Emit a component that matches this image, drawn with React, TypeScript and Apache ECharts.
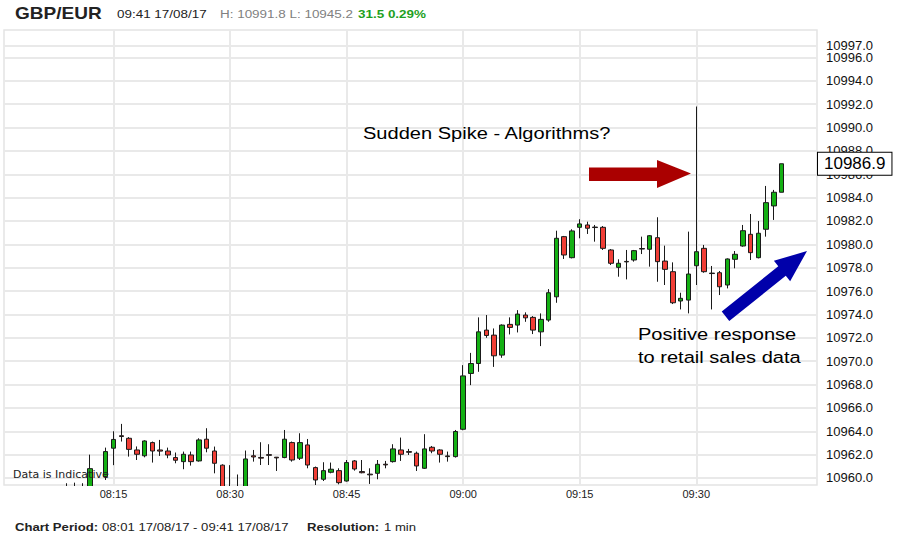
import React, { useEffect, useRef } from "react";
import * as echarts from "echarts";

const symbol = "GBP/EUR";
const stamp = "09:41 17/08/17";
const changeText = "31.5 0.29%";
const periodText = "08:01 17/08/17 - 09:41 17/08/17";
const resolutionText = "1 min";

const times = [
  "08:01","08:02","08:03","08:04","08:05","08:06","08:07","08:08","08:09","08:10",
  "08:11","08:12","08:13","08:14","08:15","08:16","08:17","08:18","08:19","08:20",
  "08:21","08:22","08:23","08:24","08:25","08:26","08:27","08:28","08:29","08:30",
  "08:31","08:32","08:33","08:34","08:35","08:36","08:37","08:38","08:39","08:40",
  "08:41","08:42","08:43","08:44","08:45","08:46","08:47","08:48","08:49","08:50",
  "08:51","08:52","08:53","08:54","08:55","08:56","08:57","08:58","08:59","09:00",
  "09:01","09:02","09:03","09:04","09:05","09:06","09:07","09:08","09:09","09:10",
  "09:11","09:12","09:13","09:14","09:15","09:16","09:17","09:18","09:19","09:20",
  "09:21","09:22","09:23","09:24","09:25","09:26","09:27","09:28","09:29","09:30",
  "09:31","09:32","09:33","09:34","09:35","09:36","09:37","09:38","09:39","09:40",
  "09:41"
];

const open = [
  10955.4,10952.0,10949.3,10946.5,10948.9,10951.7,10953.8,10955.9,10957.3,10958.6,
  10958.1,10958.7,10959.2,10960.12,10962.55,10963.62,10963.4,10962.4,10961.9,10963.03,
  10962.4,10962.31,10961.75,10961.4,10961.97,10961.46,10963.32,10962.31,10961.1,10959.0,
  10959.1,10959.2,10961.9,10961.76,10962.0,10961.78,10961.75,10963.03,10961.69,10962.83,
  10960.89,10959.89,10960.49,10960.63,10959.74,10961.46,10960.55,10960.33,10960.4,10961.18,
  10961.4,10962.4,10962.26,10962.12,10960.83,10962.63,10962.4,10961.89,10961.83,10964.17,
  10968.95,10969.8,10972.66,10972.23,10970.52,10973.15,10973.09,10973.95,10973.75,10972.51,
  10973.52,10975.51,10980.66,10978.86,10981.46,10981.66,10981.48,10981.46,10979.52,10978.03,
  10978.54,10978.66,10979.64,10979.58,10980.57,10978.57,10977.66,10975.15,10975.23,10978.17,
  10979.66,10977.54,10977.57,10976.52,10978.72,10979.86,10980.86,10978.86,10981.29,10983.29,
  10984.46
];
const close = [
  10952.0,10949.3,10946.5,10948.9,10951.7,10953.8,10955.9,10957.3,10958.6,10958.1,
  10958.7,10960.8,10958.9,10962.26,10963.3,10963.55,10962.45,10962.03,10963.17,10962.31,
  10962.3,10961.97,10961.52,10962.03,10961.4,10963.26,10962.55,10961.26,10959.0,10958.8,
  10958.9,10961.63,10961.8,10961.7,10961.94,10961.72,10963.32,10961.54,10963.03,10961.11,
  10959.83,10960.63,10960.75,10959.6,10961.32,10960.77,10960.45,10960.27,10961.17,10961.12,
  10962.49,10962.03,10962.2,10961.03,10962.49,10962.31,10962.03,10961.83,10963.98,10968.74,
  10969.8,10972.51,10972.2,10970.46,10973.09,10972.89,10974.03,10973.71,10972.66,10973.58,
  10975.86,10980.52,10979.09,10981.15,10981.75,10981.38,10981.44,10979.66,10978.38,10978.38,
  10978.5,10979.46,10979.6,10980.74,10978.52,10977.86,10975.0,10975.38,10977.46,10979.37,
  10977.66,10977.5,10976.37,10978.75,10979.15,10981.17,10979.29,10980.95,10983.57,10984.46,
  10986.9
];
const low = [
  10951.5,10948.6,10945.2,10946.0,10948.4,10951.0,10953.2,10955.1,10956.8,10957.4,
  10957.6,10958.2,10958.3,10959.83,10961.1,10963.12,10961.83,10961.54,10961.77,10961.32,
  10961.89,10961.69,10961.26,10960.75,10961.06,10961.4,10962.2,10960.4,10958.5,10958.0,
  10958.4,10958.8,10961.4,10961.11,10961.11,10960.6,10961.69,10961.4,10961.54,10960.83,
  10959.4,10959.74,10960.4,10959.46,10959.69,10960.63,10960.4,10959.49,10959.89,10960.83,
  10961.32,10961.46,10961.97,10960.6,10960.77,10962.12,10961.32,10961.4,10961.75,10964.09,
  10967.95,10969.09,10972.0,10969.51,10970.29,10972.29,10972.46,10973.37,10972.32,10971.29,
  10973.37,10975.0,10978.75,10978.8,10980.52,10980.89,10980.23,10979.52,10978.23,10977.23,
  10977.0,10978.52,10979.17,10978.09,10976.8,10976.52,10974.89,10974.43,10974.09,10976.52,
  10977.57,10974.43,10975.66,10976.23,10977.95,10979.8,10978.66,10978.8,10980.66,10982.09,
  10984.46
];
const high = [
  10955.8,10952.4,10949.8,10949.5,10952.3,10954.6,10956.5,10958.2,10959.55,10959.6,
  10959.55,10962.0,10959.3,10962.6,10964.0,10964.63,10963.5,10962.7,10963.23,10963.12,
  10963.26,10962.6,10962.18,10962.26,10962.26,10963.4,10964.26,10962.69,10961.17,10961.1,
  10960.3,10962.35,10962.4,10963.06,10962.89,10961.8,10964.11,10963.12,10963.83,10963.34,
  10960.98,10961.35,10961.32,10960.83,10961.54,10961.54,10961.54,10960.83,10961.54,10961.46,
  10962.89,10963.46,10962.49,10962.26,10963.75,10962.74,10962.46,10962.26,10964.11,10969.66,
  10970.71,10973.75,10973.95,10972.8,10973.15,10973.75,10974.37,10974.18,10973.86,10974.09,
  10976.17,10981.17,10980.72,10981.29,10982.15,10981.94,10981.66,10981.57,10979.6,10978.72,
  10979.52,10979.52,10980.66,10980.8,10982.32,10979.89,10978.46,10975.86,10981.09,10991.8,
  10979.95,10978.15,10977.72,10978.8,10979.43,10981.66,10982.6,10982.0,10985.0,10984.66,
  10986.9
];

const xTickLabels = ["08:15", "08:30", "08:45", "09:00", "09:15", "09:30"];
const yTickValues = [
  10960, 10962, 10964, 10966, 10968, 10970, 10972, 10974, 10976, 10978,
  10980, 10982, 10984, 10986, 10988, 10990, 10992, 10994, 10996, 10997
];

const toMin = (t: string) => {
  const [h, m] = t.split(":").map(Number);
  return (h - 8) * 60 + m;
};
const fromMin = (v: number) => {
  const h = 8 + Math.floor(v / 60);
  const m = Math.round(v % 60);
  return `${String(h).padStart(2, "0")}:${String(m).padStart(2, "0")}`;
};

const GREEN = "#14b014";
const RED = "#f03e36";
const FONT = "Liberation Sans, Arial, sans-serif";

export default function App() {
  const ref = useRef<HTMLDivElement>(null);
  useEffect(() => {
    if (!ref.current) return;
    const chart = echarts.init(ref.current, undefined, { renderer: "svg" });
    const data = times.map((t, i) => [toMin(t), open[i], close[i], low[i], high[i]]);
    const xTicks = xTickLabels.map(toMin);
    const last = close[close.length - 1];
    const hi = Math.max(...high);
    const lo = Math.min(...low);
    const hlText = `H: ${hi.toFixed(1)} L: ${lo.toFixed(1)}`;
    const topTick = yTickValues[yTickValues.length - 1];
    const yLabelsMain = yTickValues.filter((v) => v !== topTick);
    const SX = 1.17;
    const txt = (x: number, y: number, text: string, fontSize: number, opts: any = {}) => ({
      type: "text",
      x,
      y,
      scaleX: opts.scaleX ?? SX,
      z: 100,
      style: {
        text,
        x: 0,
        y: 0,
        fontSize,
        fontWeight: opts.bold ? "bold" : "normal",
        fontFamily: opts.family ?? FONT,
        fill: opts.fill ?? "#111",
        verticalAlign: "middle",
        align: "left",
      },
    });

    const bt = { x: 725.5, y: 316.3 };
    const bp = { x: 807, y: 251 };
    const dx = bp.x - bt.x, dy = bp.y - bt.y;
    const len = Math.hypot(dx, dy);
    const ux = dx / len, uy = dy / len;
    const nx = -uy, ny = ux;
    const hl = 32, hw = 13, sw = 6;
    const bb = { x: bp.x - hl * ux, y: bp.y - hl * uy };
    const bluePts = [
      [bt.x - sw * nx, bt.y - sw * ny],
      [bb.x - sw * nx, bb.y - sw * ny],
      [bb.x - hw * nx, bb.y - hw * ny],
      [bp.x, bp.y],
      [bb.x + hw * nx, bb.y + hw * ny],
      [bb.x + sw * nx, bb.y + sw * ny],
      [bt.x + sw * nx, bt.y + sw * ny],
    ];

    const xRange = { min: 0.91, max: 105.54 };
    const yRange = { min: 10959.4, max: 10998.35 };
    const gridLine = { show: true, lineStyle: { color: "#e9e9e9", width: 2 } };

    chart.setOption({
      animation: false,
      backgroundColor: "#fff",
      grid: {
        left: 4,
        right: 83,
        top: 30,
        bottom: 57,
        show: true,
        borderColor: "#e4e4e4",
        borderWidth: 1.5,
      },
      xAxis: [
        {
          type: "value",
          ...xRange,
          axisLine: { show: false },
          axisTick: { show: false, customValues: xTicks },
          axisLabel: { show: false },
          splitLine: gridLine,
        },
        {
          type: "value",
          ...xRange,
          z: 50,
          position: "bottom",
          axisLine: { show: false },
          axisTick: { show: false, customValues: xTicks },
          axisLabel: {
            customValues: xTicks,
            formatter: (v: number) => fromMin(v),
            fontSize: 11,
            color: "#222",
            margin: 3,
            fontFamily: FONT,
          },
          splitLine: { show: false },
        },
      ],
      yAxis: [
        {
          type: "value",
          position: "right",
          ...yRange,
          axisLine: { show: false },
          axisTick: { show: false, customValues: yTickValues },
          axisLabel: {
            customValues: yLabelsMain,
            formatter: (v: number) => v.toFixed(1),
            fontSize: 13,
            color: "#111",
            margin: 9,
            fontFamily: FONT,
          },
          splitLine: gridLine,
        },
        {
          type: "value",
          position: "right",
          ...yRange,
          axisLine: { show: false },
          axisTick: { show: false, customValues: [topTick] },
          axisLabel: {
            customValues: [topTick],
            showMaxLabel: true,
            showMinLabel: true,
            formatter: (v: number) => v.toFixed(1),
            fontSize: 13,
            color: "#111",
            margin: 9,
            fontFamily: FONT,
          },
          splitLine: { show: false },
        },
      ],
      series: [
        {
          type: "candlestick",
          xAxisIndex: 0,
          yAxisIndex: 0,
          data,
          encode: { x: 0, y: [1, 2, 3, 4] },
          barWidth: 5,
          clip: true,
          itemStyle: {
            color: GREEN,
            color0: RED,
            borderColor: "#1a1a1a",
            borderColor0: "#1a1a1a",
            borderWidth: 1,
          },
          markLine: {
            silent: true,
            symbol: "none",
            data: [{ yAxis: last }],
            lineStyle: { color: "transparent", width: 1 },
            label: {
              show: true,
              position: "end",
              distance: 1,
              formatter: () => last.toFixed(1),
              fontSize: 17,
              color: "#000",
              fontFamily: FONT,
              backgroundColor: "#fff",
              borderColor: "#000",
              borderWidth: 1,
              padding: [2, 6, 1, 6],
              lineHeight: 19,
            },
          },
        },
      ],
      graphic: {
        elements: [
          {
            type: "rect",
            z: 10,
            silent: true,
            shape: { x: 0, y: 486, width: 818, height: 30 },
            style: { fill: "#fff" },
          },
          txt(15, 13, symbol, 17, { bold: true, fill: "#222", scaleX: 1.12 }),
          txt(117, 14.5, stamp, 11.5, { fill: "#222" }),
          txt(220, 14.5, hlText, 11.5, { fill: "#808080" }),
          txt(358, 14.5, changeText, 11.5, { bold: true, fill: "#1ea01e" }),
          txt(15, 527.5, "Chart Period:", 11.5, { bold: true, fill: "#222", scaleX: 1.14 }),
          txt(102, 527.5, periodText, 11.5, { fill: "#222", scaleX: 1.14 }),
          txt(307, 527.5, "Resolution:", 11.5, { bold: true, fill: "#222", scaleX: 1.14 }),
          txt(384, 527.5, resolutionText, 11.5, { fill: "#222", scaleX: 1.14 }),
          txt(363, 133, "Sudden Spike - Algorithms?", 17, { fill: "#000", scaleX: 1.18 }),
          txt(638, 334, "Positive response", 17, { fill: "#000", scaleX: 1.18 }),
          txt(638, 357, "to retail sales data", 17, { fill: "#000", scaleX: 1.18 }),
          txt(13, 474, "Data is Indicative", 11, { fill: "#222", scaleX: 1, family: "DejaVu Sans, Verdana, sans-serif" }),
          {
            type: "polygon",
            z: 100,
            shape: {
              points: [
                [589, 167.5], [657, 167.5], [657, 160], [691, 173.5],
                [657, 188], [657, 181], [589, 181],
              ],
            },
            style: { fill: "#aa0000" },
          },
          {
            type: "polygon",
            z: 100,
            shape: { points: bluePts },
            style: { fill: "#0000aa" },
          },
        ],
      },
    });
    return () => chart.dispose();
  }, []);
  return (
    <div
      ref={ref}
      style={{ position: "fixed", left: 0, top: 0, width: 900, height: 542, background: "#fff" }}
    />
  );
}
